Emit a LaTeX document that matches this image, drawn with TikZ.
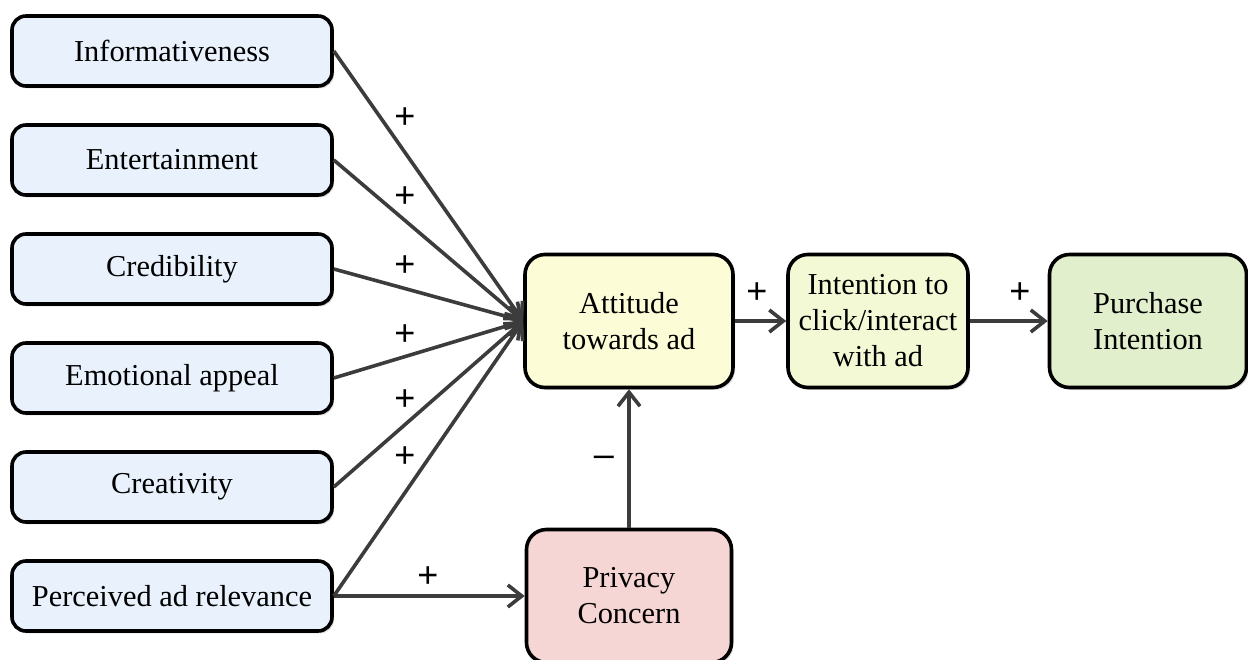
\documentclass[tikz,border=0pt]{standalone}
\usepackage{fontspec}
\setmainfont{Liberation Serif}
\newfontfamily\signfont{Liberation Sans}
\usepackage{tikz}
\usetikzlibrary{arrows.meta,shadows}
\definecolor{factorblue}{RGB}{232,241,252}
\definecolor{attyellow}{RGB}{252,252,214}
\definecolor{clickgreen}{RGB}{243,249,212}
\definecolor{buygreen}{RGB}{226,239,204}
\definecolor{privpink}{RGB}{246,214,212}
\definecolor{linkgray}{RGB}{60,60,60}

\begin{document}
\begin{tikzpicture}[x=0.5pt,y=-0.5pt,
    box/.style={draw=black, line width=1.8pt, rounded corners=7pt, inner sep=0pt,
      align=center, font=\fontsize{15.2}{18}\selectfont,
      drop shadow={shadow xshift=1pt, shadow yshift=-1.2pt, opacity=0.3}},
    factor/.style={box, fill=factorblue, minimum width=160pt, minimum height=35pt},
    stage/.style={box, rounded corners=10pt, minimum height=66.5pt},
    link/.style={draw=linkgray, line width=1.8pt,
      -{Straight Barb[length=7pt,width=11pt,line width=1.8pt]}},
    sign/.style={font=\signfont\fontsize{18}{18}\selectfont}]
    \path[use as bounding box, clip] (0,0) rectangle (1248,659);

      \node (info) at (172,51) [factor] {Informativeness};
      \node (ent) at (172,160) [factor] {Entertainment};
      \node (cred) at (172,269) [factor] {Credibility};
      \node (emo) at (172,378) [factor] {Emotional appeal};
      \node (crea) at (172,487) [factor] {Creativity};
      \node (rel) at (172,596) [factor] {Perceived ad relevance};

      \node (att) at (629,321) [stage, fill=attyellow, minimum width=104pt] {Attitude\\towards ad};
      \node (click) at (878,321) [stage, fill=clickgreen, minimum width=90pt] {Intention to\\click/interact\\with ad};
      \node (buy) at (1148,321) [stage, fill=buygreen, minimum width=98.5pt] {Purchase\\Intention};
      \node (priv) at (629,596) [stage, fill=privpink, minimum width=102.5pt] {Privacy\\Concern};

      \draw (405,118) node[sign] {+};
      \draw (405,197) node[sign] {+};
      \draw (405,266) node[sign] {+};
      \draw (405,335) node[sign] {+};
      \draw (405,400) node[sign] {+};
      \draw (405,457) node[sign] {+};
      \draw (428,577) node[sign] {+};
      \draw (604,461) node[sign] {\textendash};
      \draw (757,293) node[sign] {+};
      \draw (1020,293) node[sign] {+};

    \draw[link]
    (info.east) to (att.west);
    \draw[link] (ent.east) to (att.west);
    \draw[link] (cred.east) to (att.west);
    \draw[link] (emo.east) to (att.west);
    \draw[link] (crea.east) to (att.west);
    \draw[link] (rel.east) to (att.west);
    \draw[link] (rel.east) to (priv.west);
    \draw[link] (priv.north) to (att.south);
    \draw[link] (att.east) to (click.west);
    \draw[link] (click.east) to (buy.west);
  \end{tikzpicture}
\end{document}
